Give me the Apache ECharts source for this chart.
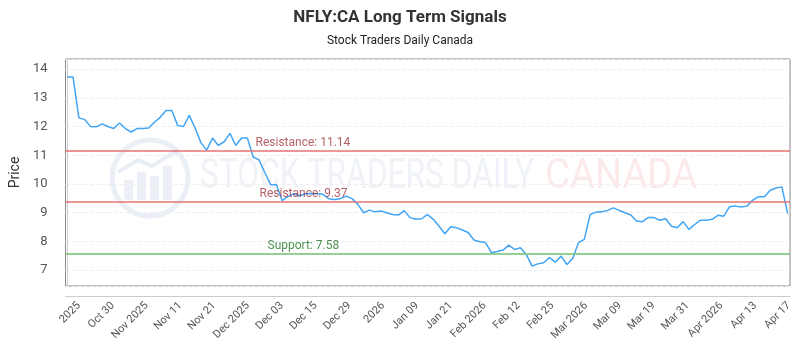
<!DOCTYPE html>
<html>
<head>
<meta charset="utf-8">
<script src="https://cdn.jsdelivr.net/npm/echarts@6/dist/echarts.min.js"></script>
<style>
  html, body { margin: 0; padding: 0; background: #fff; }
  #chart { width: 800px; height: 350px; }
</style>
</head>
<body>
<div id="chart"></div>
<script>
// closing prices
const prices = [
  13.72, 13.72, 12.30, 12.24, 12.00, 11.99, 12.09, 12.00, 11.93, 12.12,
  11.93, 11.81, 11.93, 11.93, 11.95, 12.15, 12.32, 12.56, 12.56, 12.04,
  12.00, 12.39, 11.95, 11.44, 11.18, 11.60, 11.34, 11.47, 11.76, 11.34,
  11.60, 11.60, 10.94, 10.84, 10.40, 9.98, 9.97, 9.42, 9.57, 9.66,
  9.59, 9.66, 9.67, 9.66, 9.64, 9.49, 9.46, 9.49, 9.58, 9.49,
  9.30, 9.00, 9.09, 9.03, 9.06, 9.00, 8.94, 8.92, 9.07, 8.83,
  8.77, 8.79, 8.94, 8.77, 8.53, 8.27, 8.51, 8.48, 8.40, 8.31,
  8.05, 7.99, 7.96, 7.61, 7.65, 7.70, 7.87, 7.72, 7.78, 7.55,
  7.14, 7.22, 7.26, 7.44, 7.28, 7.49, 7.20, 7.41, 7.96, 8.07,
  8.94, 9.02, 9.03, 9.08, 9.17, 9.08, 9.00, 8.92, 8.71, 8.69,
  8.83, 8.83, 8.74, 8.79, 8.53, 8.48, 8.69, 8.42, 8.59, 8.74,
  8.74, 8.77, 8.91, 8.88, 9.21, 9.23, 9.20, 9.23, 9.44, 9.56,
  9.56, 9.78, 9.86, 9.90, 8.97
];

const tickLabels = [
  '2025', 'Oct 30', 'Nov 2025', 'Nov 11', 'Nov 21', 'Dec 2025', 'Dec 03',
  'Dec 15', 'Dec 29', '2026', 'Jan 09', 'Jan 21', 'Feb 2026', 'Feb 12',
  'Feb 25', 'Mar 2026', 'Mar 09', 'Mar 19', 'Mar 31', 'Apr 2026', 'Apr 13', 'Apr 17'
];

const resistanceLevels = [11.14, 9.37];
const supportLevels = [7.58];

const chart = echarts.init(document.getElementById('chart'));

const seriesData = prices.map((v, i) => [i, v]);

const levelLines = [];
resistanceLevels.forEach((v, i) => {
  levelLines.push({
    yAxis: v,
    lineStyle: { color: '#e57373', width: 2, opacity: 0.75, type: 'solid' },
    label: {
      formatter: 'Resistance: ' + v.toFixed(2),
      position: 'insideStartTop',
      distance: [i === 0 ? 190 : 194, 2],
      color: '#9e2a31',
      fontSize: 12
    }
  });
});
supportLevels.forEach((v) => {
  levelLines.push({
    yAxis: v,
    lineStyle: { color: '#81c784', width: 2, opacity: 0.85, type: 'solid' },
    label: {
      formatter: 'Support: ' + v.toFixed(2),
      position: 'insideStartTop',
      distance: [202, 2],
      color: '#2e7d32',
      fontSize: 12
    }
  });
});

const option = {
  animation: false,
  textStyle: { fontFamily: 'Roboto, "Noto Sans", sans-serif' },
  title: {
    text: 'NFLY:CA Long Term Signals',
    subtext: 'Stock Traders Daily Canada',
    left: 'center',
    top: 4,
    itemGap: 9,
    textStyle: { fontSize: 17, fontWeight: 'bold', color: '#333' },
    subtextStyle: { fontSize: 12, color: '#222' }
  },
  graphic: [
    {
      type: 'circle', shape: { cx: 150, cy: 178, r: 38 },
      style: { fill: 'rgba(255,255,255,0)', stroke: 'rgba(150,170,205,0.2)', lineWidth: 5 },
      z: 0
    },
    { type: 'rect', shape: { x: 124, y: 180, width: 9, height: 20 }, style: { fill: 'rgba(150,170,205,0.18)' }, z: 0 },
    { type: 'rect', shape: { x: 137, y: 172, width: 9, height: 28 }, style: { fill: 'rgba(150,170,205,0.18)' }, z: 0 },
    { type: 'rect', shape: { x: 150, y: 176, width: 9, height: 24 }, style: { fill: 'rgba(150,170,205,0.18)' }, z: 0 },
    { type: 'rect', shape: { x: 163, y: 166, width: 9, height: 34 }, style: { fill: 'rgba(150,170,205,0.18)' }, z: 0 },
    {
      type: 'polyline', shape: { points: [[118, 172], [138, 160], [152, 166], [178, 150]] },
      style: { stroke: 'rgba(150,170,205,0.2)', lineWidth: 4, fill: null }, z: 0
    },
    {
      type: 'text', x: 200, y: 156, scaleX: 0.755, z: 0,
      style: {
        text: 'STOCK TRADERS DAILY',
        font: '42px Roboto, sans-serif',
        fill: 'rgba(160,178,205,0.17)'
      }
    },
    {
      type: 'text', x: 545, y: 156, scaleX: 0.91, z: 0,
      style: {
        text: 'CANADA',
        font: '42px Roboto, sans-serif',
        fill: 'rgba(240,130,130,0.17)'
      }
    }
  ],
  grid: [
    { left: 60, right: 10, top: 59, bottom: 64, show: true, borderColor: '#888', borderWidth: 1, backgroundColor: 'transparent' },
    { left: 79, right: 11, top: 59, bottom: 64, show: false }
  ],
  xAxis: [
    {
      type: 'value',
      gridIndex: 0,
      min: -0.3,
      max: prices.length - 1 + 0.4,
      offset: 10,
      axisLine: { show: true, lineStyle: { color: '#ccc' } },
      axisTick: { show: false },
      axisLabel: { show: false },
      splitLine: { show: false }
    },
    {
      type: 'category',
      gridIndex: 1,
      data: tickLabels,
      boundaryGap: false,
      offset: 10,
      axisLine: { show: false },
      axisTick: { show: false },
      splitLine: { show: false },
      axisLabel: { interval: 0, rotate: 45, color: '#555', fontSize: 11, margin: 8 }
    }
  ],
  yAxis: [
    {
      type: 'value',
      gridIndex: 0,
      min: 6.45,
      max: 14.35,
      splitNumber: 8,
      offset: 10,
      name: 'Price',
      nameLocation: 'middle',
      nameGap: 33,
      nameTextStyle: { fontSize: 14, color: '#333' },
      axisLine: { show: true, lineStyle: { color: '#ccc' } },
      axisTick: { show: false },
      axisLabel: { color: '#555', fontSize: 13, margin: 8, showMinLabel: false, showMaxLabel: false },
      splitLine: { show: true, lineStyle: { color: '#eee', type: 'dashed' } }
    },
    { type: 'value', gridIndex: 1, show: false }
  ],
  series: [
    {
      type: 'line',
      xAxisIndex: 0,
      yAxisIndex: 0,
      data: seriesData,
      showSymbol: false,
      lineStyle: { color: '#42a5f5', width: 1.5 },
      z: 3,
      markLine: {
        silent: true,
        symbol: 'none',
        data: levelLines
      }
    }
  ]
};

chart.setOption(option);
</script>
</body>
</html>
